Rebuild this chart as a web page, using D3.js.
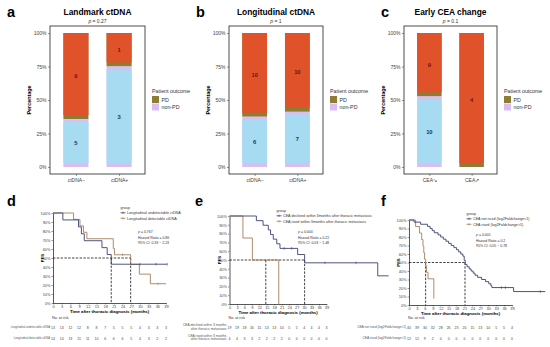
<!DOCTYPE html>
<html>
<head>
<meta charset="utf-8">
<script src="https://cdn.jsdelivr.net/npm/d3@7"></script>
<style>
  body { margin: 0; background: #fff; }
  svg { display: block; font-family: "Liberation Sans", Arial, sans-serif; }
</style>
</head>
<body>
<script>
// ---- stacked bar panels (a, b, c)
const landmarkGroups = ["ctDNA−", "ctDNA+"];
const landmarkPD = [9, 1];
const landmarkNonPD = [5, 3];

const longitudinalGroups = ["ctDNA−", "ctDNA+"];
const longitudinalPD = [10, 10];
const longitudinalNonPD = [6, 7];

const ceaGroups = ["CEA↘", "CEA↗"];
const ceaPD = [9, 4];
const ceaNonPD = [10, 0];

const percentTicks = [0, 0.25, 0.5, 0.75, 1];
const outcomeLabels = ["PD", "non-PD"];

// ---- Kaplan-Meier panels (d, e, f): [months, PFS %]
const timeTicks = [0, 3, 6, 9, 12, 15, 18, 21, 24, 27, 30, 33, 36, 39];
const pfsTicks = [0, 10, 20, 30, 40, 50, 60, 70, 80, 90, 100];

const dUndetectable = [[0,100],[3.4,92.3],[8.8,84.6],[9.8,76.9],[10.8,69.2],[16.9,61.5],[18.7,53.8],[20.1,43.1],[39.4,43.1]];
const dUndetectableCensor = [[30,43.1],[35.5,43.1],[39.4,43.1]];
const dDetectable = [[0,100],[7.1,92.9],[9.3,85.7],[10.5,78.6],[11.7,71.4],[20.8,60.7],[21.2,53.6],[26.8,42.9],[29.8,32.1],[33.6,21.4],[39,21.4]];
const dDetectableCensor = [[24,53.6],[36.2,21.4]];
const dMedians = [20.1, 26.8];
const dRiskUndetectable = [13, 13, 12, 12, 8, 8, 7, 5, 5, 5, 4, 3, 3, 3];
const dRiskDetectable = [14, 14, 13, 11, 11, 10, 6, 6, 6, 5, 4, 3, 2, 2];

const eDeclined = [[0,100],[10.8,94.7],[13.5,89.5],[15.6,84.2],[16.5,78.9],[17.6,73.7],[19,68.4],[20.3,63.2],[27.4,56.2],[30.2,46.8],[59.6,32],[64,32]];
const eDeclinedCensor = [[22,63.2],[25,63.2],[38.4,46.8],[50.9,46.8]];
const eRised = [[0,100],[5.4,75],[9.2,50],[19.8,0],[19.9,0]];
const eRisedCensor = [];
const eMedians = [14.6, 30.2];
const eRiskDeclined = [19, 19, 18, 16, 15, 13, 13, 10, 5, 5, 4, 4, 4, 3];
const eRiskRised = [4, 4, 3, 3, 2, 2, 2, 2, 0, 0, 0, 0, 0, 0];

const fNotRised = [[0,100],[1.9,97.5],[4.4,95],[7,92.5],[8,90],[8.8,87.5],[9.6,85],[11,82.5],[12,80],[13,77.5],[14,75],[15,72.5],[16,70],[17,67.5],[18,65],[18.8,62.5],[19.6,60],[20.4,57.5],[20.9,52.5],[21.3,47.5],[22,45],[22.8,42.5],[23.5,40],[24.3,37.5],[25,35],[26,32.5],[27.5,30],[29,27.5],[30.2,25],[31,22.5],[31.4,20.5],[39.6,15.8],[51.6,15.8]];
const fNotRisedCensor = [[35,20.5],[36.5,20.5],[49.7,15.8]];
const fRised = [[0,100],[2.5,92.3],[4,84.6],[4.8,76.9],[5.3,69.2],[5.6,61.5],[5.9,53.8],[6.3,46.2],[6.6,38.5],[7.2,30.8],[9.4,7.7],[9.5,7.7]];
const fRisedCensor = [];
const fMedians = [6.3, 21.2];
const fRiskNotRised = [40, 39, 34, 32, 28, 26, 23, 20, 15, 13, 10, 5, 5, 4];
const fRiskRised = [12, 12, 9, 2, 0, 0, 0, 0, 0, 0, 0, 0, 0, 0];

const colPD = "#8E7B34", colNonPD = "#D9BEF3";
const colPDTop = "#E0532A", colNonPDTop = "#A6DBF2";
const colNavy = "#3B4173", colBrown = "#A67F5B";

const svg = d3.select("body").append("svg")
  .attr("width", 550)
  .attr("height", 347);

function styleAxis(g, size) {
  g.selectAll("path, line").attr("stroke", "#333").attr("stroke-width", 0.5);
  g.selectAll("text").attr("font-size", size).attr("fill", "#444");
}

function drawBarPanel(p) {
  const y = d3.scaleLinear().domain([0, 1]).range([167, 33]);
  const x = d3.scalePoint().domain(p.groups).range([p.left, p.right]).padding(0.6);
  const bw = x.step() * 0.58;
  const g = svg.append("g");

  g.append("text").attr("x", p.letterX).attr("y", 17)
    .attr("font-size", 14.5).attr("font-weight", "bold").text(p.letter);
  g.append("text").attr("x", (p.left + p.right) / 2).attr("y", 15)
    .attr("text-anchor", "middle").attr("font-size", 8.4).attr("font-weight", "bold").text(p.title);
  const pt = g.append("text").attr("x", (p.left + p.right) / 2).attr("y", 23)
    .attr("text-anchor", "middle").attr("font-size", 5).attr("fill", "#333");
  pt.append("tspan").attr("font-style", "italic").text("p");
  pt.append("tspan").text(" = " + p.pValue);

  p.groups.forEach((grp, i) => {
    const total = p.pd[i] + p.nonPd[i];
    const b = p.nonPd[i] / total;
    const x0 = x(grp) - bw / 2;
    // base stacked bar
    g.append("rect").attr("x", x0).attr("width", bw)
      .attr("y", y(1)).attr("height", y(b) - y(1)).attr("fill", colPD);
    if (b > 0) g.append("rect").attr("x", x0).attr("width", bw)
      .attr("y", y(b)).attr("height", y(0) - y(b)).attr("fill", colNonPD);
    // recoloured fill on top
    if (p.pd[i] > 0) g.append("rect").attr("x", x0).attr("width", bw)
      .attr("y", y(1)).attr("height", y(b + 0.03) - y(1)).attr("fill", colPDTop);
    if (b > 0.05) g.append("rect").attr("x", x0).attr("width", bw)
      .attr("y", y(b - 0.02)).attr("height", y(0.03) - y(b - 0.02)).attr("fill", colNonPDTop);
    if (p.pd[i] > 0) g.append("text").attr("x", x(grp)).attr("y", y((1 + b) / 2) + 2)
      .attr("text-anchor", "middle").attr("font-size", 5.8).attr("font-weight", "bold")
      .attr("fill", "#7A0C0C").text(p.pd[i]);
    if (p.nonPd[i] > 0) g.append("text").attr("x", x(grp)).attr("y", y(b / 2) + 2)
      .attr("text-anchor", "middle").attr("font-size", 5.8).attr("font-weight", "bold")
      .attr("fill", "#1B3550").text(p.nonPd[i]);
  });

  g.append("rect").attr("x", p.left).attr("y", 26)
    .attr("width", p.right - p.left).attr("height", 148)
    .attr("fill", "none").attr("stroke", "#222").attr("stroke-width", 0.8);

  g.append("g").attr("transform", `translate(${p.left},0)`)
    .call(d3.axisLeft(y).tickValues(percentTicks).tickFormat(d3.format(".0%"))
      .tickSize(2).tickSizeOuter(0).tickPadding(1.5))
    .call(a => { a.select(".domain").remove(); styleAxis(a, 5); });
  g.append("g").attr("transform", `translate(0,174)`)
    .call(d3.axisBottom(x).tickSize(2).tickSizeOuter(0).tickPadding(2))
    .call(a => { a.select(".domain").remove(); styleAxis(a, 5); });

  g.append("text").attr("transform", `translate(${p.left - 19},100) rotate(-90)`)
    .attr("text-anchor", "middle").attr("font-size", 5.4).attr("font-weight", "bold").text("Percentage");

  // legend
  const lg = g.append("g").attr("transform", `translate(${p.right + 7},93)`);
  lg.append("text").attr("font-size", 5.3).attr("fill", "#333").text("Patient outcome");
  [colPD, colNonPD].forEach((c, i) => {
    lg.append("rect").attr("x", 0).attr("y", 3 + i * 7.5).attr("width", 7).attr("height", 7).attr("fill", c);
    lg.append("text").attr("x", 9.5).attr("y", 8.5 + i * 7.5).attr("font-size", 5.3)
      .attr("fill", "#333").text(outcomeLabels[i]);
  });
}

drawBarPanel({ letter: "a", letterX: 7, title: "Landmark ctDNA", pValue: "0.27",
  groups: landmarkGroups, pd: landmarkPD, nonPd: landmarkNonPD, left: 50, right: 145 });
drawBarPanel({ letter: "b", letterX: 196, title: "Longitudinal ctDNA", pValue: "1",
  groups: longitudinalGroups, pd: longitudinalPD, nonPd: longitudinalNonPD, left: 229, right: 323 });
drawBarPanel({ letter: "c", letterX: 381, title: "Early CEA change", pValue: "0.1",
  groups: ceaGroups, pd: ceaPD, nonPd: ceaNonPD, left: 404, right: 497 });

function drawKM(p) {
  const x = d3.scaleLinear().domain([0, 39]).range([p.left, p.right]);
  const y = d3.scaleLinear().domain([0, 100]).range([p.bottom, p.top]);
  const g = svg.append("g");

  g.append("text").attr("x", p.letterX).attr("y", p.letterY)
    .attr("font-size", 14.5).attr("font-weight", "bold").text(p.letter);

  g.append("g").attr("transform", `translate(0,${p.bottom})`)
    .call(d3.axisBottom(x).tickValues(timeTicks).tickSize(1.5).tickSizeOuter(0).tickPadding(1))
    .call(a => styleAxis(a, 3.9));
  g.append("g").attr("transform", `translate(${p.left},0)`)
    .call(d3.axisLeft(y).tickValues(pfsTicks).tickFormat(d => d + "%")
      .tickSize(1.5).tickSizeOuter(0).tickPadding(1))
    .call(a => styleAxis(a, 3.9));
  g.selectAll(".domain").attr("stroke", "#111").attr("stroke-width", 0.7);

  g.append("text").attr("x", (p.left + p.right) / 2).attr("y", p.bottom + 10)
    .attr("text-anchor", "middle").attr("font-size", 4.3).attr("font-weight", "bold")
    .text("Time after thoracic diagnosis (months)");
  g.append("text").attr("transform", `translate(${p.left - 9},${(p.top + p.bottom) / 2}) rotate(-90)`)
    .attr("text-anchor", "middle").attr("font-size", 4.3).attr("font-weight", "bold").text("PFS");

  // median guides
  const dash = g.append("g").attr("stroke", "#111").attr("stroke-width", 0.8)
    .attr("stroke-dasharray", "2.4,1.4").attr("fill", "none");
  dash.append("line").attr("x1", x(0)).attr("x2", x(d3.max(p.medians)))
    .attr("y1", y(50)).attr("y2", y(50));
  p.medians.forEach(m => dash.append("line").attr("x1", x(m)).attr("x2", x(m))
    .attr("y1", y(50)).attr("y2", y(0)));

  const line = d3.line().curve(d3.curveStepAfter).x(d => x(d[0])).y(d => y(d[1]));
  p.curves.slice().reverse().forEach(c => {
    g.append("path").attr("d", line(c.data)).attr("fill", "none")
      .attr("stroke", c.color).attr("stroke-width", 0.9);
    g.selectAll(null).data(c.censor).join("line")
      .attr("x1", d => x(d[0])).attr("x2", d => x(d[0]))
      .attr("y1", d => y(d[1]) - 1.3).attr("y2", d => y(d[1]) + 1.3)
      .attr("stroke", c.color).attr("stroke-width", 0.6);
  });

  // legend
  const lg = g.append("g").attr("transform", `translate(${p.legendX},${p.legendY})`);
  lg.append("text").attr("font-size", 3.7).attr("fill", "#333").text("group");
  p.curves.forEach((c, i) => {
    const yy = 5 + i * 5.5;
    lg.append("line").attr("x1", 0).attr("x2", 5).attr("y1", yy - 1.2).attr("y2", yy - 1.2)
      .attr("stroke", c.color).attr("stroke-width", 0.8);
    lg.append("line").attr("x1", 2.5).attr("x2", 2.5).attr("y1", yy - 2.4).attr("y2", yy)
      .attr("stroke", c.color).attr("stroke-width", 0.6);
    lg.append("text").attr("x", 6.5).attr("y", yy).attr("font-size", 3.7)
      .attr("fill", "#333").text(c.name);
  });

  const st = g.append("g").attr("transform", `translate(${p.statX},${p.statY})`)
    .attr("font-size", 3.5).attr("fill", "#333");
  const pl = st.append("text");
  pl.append("tspan").attr("font-style", "italic").text("p");
  pl.append("tspan").text(" = " + p.pValue);
  st.append("text").attr("y", 5.5).text("Hazard Ratio = " + p.hr);
  st.append("text").attr("y", 11).text("95% CI: " + p.ci);

  // risk table
  g.append("text").attr("x", p.left - 1).attr("y", 319).attr("font-size", 3.7)
    .attr("fill", "#333").text("No. at risk");
  p.curves.forEach((c, i) => {
    const ry = 328 + i * 10.5;
    const lab = g.append("text").attr("x", p.left - 3).attr("y", ry - (c.label.length - 1) * 1.7)
      .attr("text-anchor", "end").attr("font-size", p.rowFont).attr("fill", "#555");
    c.label.forEach((t, k) => lab.append("tspan").attr("x", p.left - 3).attr("dy", k ? 3.4 : 0).text(t));
    g.selectAll(null).data(c.risk).join("text")
      .attr("x", (d, k) => x(timeTicks[k])).attr("y", ry + 1)
      .attr("text-anchor", "middle").attr("font-size", 3.5).attr("fill", "#444")
      .text(d => d);
  });
}

drawKM({
  letter: "d", letterX: 7, letterY: 206, left: 53, right: 166, top: 213, bottom: 303,
  medians: dMedians, pValue: "0.767", hr: "0.86", ci: "0.33 − 2.23", rowFont: 2.7,
  legendX: 120.5, legendY: 209, statX: 138, statY: 233,
  curves: [
    { name: "Longitudinal undetectable ctDNA", color: colNavy, data: dUndetectable,
      censor: dUndetectableCensor, risk: dRiskUndetectable, label: ["Longitudinal undetectable ctDNA"] },
    { name: "Longitudinal detectable ctDNA", color: colBrown, data: dDetectable,
      censor: dDetectableCensor, risk: dRiskDetectable, label: ["Longitudinal detectable ctDNA"] }
  ]
});

drawKM({
  letter: "f", letterX: 381, letterY: 206, left: 409, right: 512, top: 220, bottom: 305,
  medians: fMedians, pValue: "0.001", hr: "0.2", ci: "0.05 − 0.78", rowFont: 3.2,
  legendX: 466.5, legendY: 215, statX: 476, statY: 236,
  curves: [
    { name: "CEA not rised (log2Foldchange<1)", color: colNavy, data: fNotRised,
      censor: fNotRisedCensor, risk: fRiskNotRised, label: ["CEA not rised (log2Foldchange<1)"] },
    { name: "CEA rised (log2Foldchange>1)", color: colBrown, data: fRised,
      censor: fRisedCensor, risk: fRiskRised, label: ["CEA rised (log2Foldchange>1)"] }
  ]
});

drawKM({
  letter: "e", letterX: 195, letterY: 206, left: 229.5, right: 326.5, top: 216, bottom: 304,
  medians: eMedians, pValue: "0.004", hr: "0.22", ci: "0.03 − 1.48", rowFont: 3.3,
  legendX: 276.5, legendY: 212, statX: 298, statY: 233,
  curves: [
    { name: "CEA declined within 3months after thoracic metastasis", color: colNavy, data: eDeclined,
      censor: eDeclinedCensor, risk: eRiskDeclined, label: ["CEA declined within 3 months", "after thoracic metastasis"] },
    { name: "CEA rised within 3months after thoracic metastasis", color: colBrown, data: eRised,
      censor: eRisedCensor, risk: eRiskRised, label: ["CEA rised within 3 months", "after thoracic metastasis"] }
  ]
});
</script>
</body>
</html>
